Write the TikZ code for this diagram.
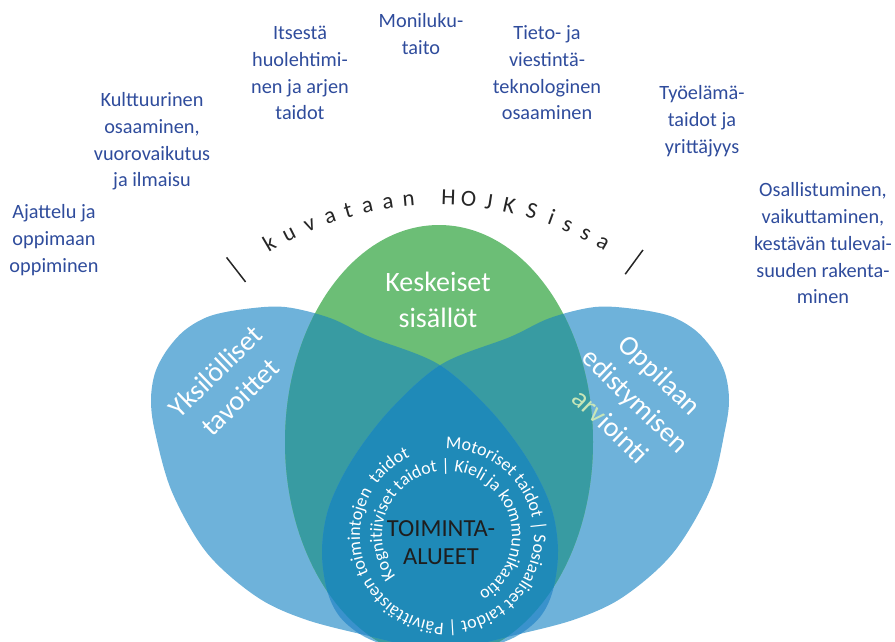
\documentclass[tikz,border=0pt]{standalone}
\usepackage{fontspec}
\setmainfont{Carlito}
\usetikzlibrary{decorations.text}
\definecolor{lblue}{HTML}{6EB2DA}
\definecolor{lgreen}{HTML}{6CBE76}
\definecolor{tealc}{HTML}{389BA2}
\definecolor{dblue}{HTML}{1F8AB8}
\definecolor{sblue}{HTML}{3A92CC}
\definecolor{labelblue}{HTML}{2F4C9C}
\definecolor{palegreen}{HTML}{C8E6B8}
\definecolor{darktext}{HTML}{1E1E1E}
\definecolor{arctext}{HTML}{262626}
\begin{document}
\begin{tikzpicture}[x=1pt,y=1pt,
  lbl/.style={text=labelblue, align=center, font=\fontsize{20.3}{26.7}\selectfont, inner sep=0pt},
  big/.style={text=white, align=center, font=\fontsize{28}{35.5}\selectfont, inner sep=0pt},
  arcl/.style={text=arctext, font=\fontsize{23}{27}\selectfont, inner sep=0pt},
  slashline/.style={draw=arctext, line width=1.5pt},
  ringtext/.style={decorate, decoration={text along path, text format delimiters={[}{]}, text align=left, text={#1}}}]
\useasboundingbox (0,0) rectangle (895,-641);
\def\LS{plot[smooth cycle, tension=0.55] coordinates {(285,-307) (330,-318) (370,-337) (438,-364) (490,-410) (528,-460) (551,-507) (558,-550) (553,-590) (540,-617) (515,-637) (480,-649) (445,-652) (410,-646) (373,-637) (307,-620) (257,-597) (207,-553) (172,-492) (155,-432) (151,-400) (155,-373) (167,-350) (185,-330) (210,-316) (245,-309)}}
\def\RS{plot[smooth cycle, tension=0.55] coordinates {(595,-307) (550,-318) (510,-337) (442,-364) (390,-410) (352,-460) (329,-507) (322,-550) (327,-590) (340,-617) (365,-637) (400,-649) (435,-652) (470,-646) (507,-637) (573,-620) (623,-597) (673,-553) (710,-490) (725,-430) (729,-400) (725,-373) (713,-350) (695,-330) (670,-316) (635,-309)}}
\def\GS{(439,-442) ellipse [x radius=154, y radius=217]}
% base shapes
\fill[lblue] \LS;
\fill[lblue] \RS;
\fill[lgreen] \GS;
\begin{scope}
  \clip \GS;
  \fill[tealc] \LS;
  \fill[tealc] \RS;
\end{scope}
\begin{scope}
  \clip \LS;
  \fill[sblue] \RS;
\end{scope}
\begin{scope}
  \clip \LS;
  \clip \RS;
  \fill[dblue] \GS;
\end{scope}
% outer labels
\node[lbl] (ajattelu) at (54,-240) {\strut Ajattelu ja\\\strut oppimaan\\\strut oppiminen};
\node[lbl] (kulttuuri) at (152,-141.5) {\strut Kulttuurinen\\\strut osaaminen,\\\strut vuorovaikutus\\\strut ja ilmaisu};
\node[lbl] (itsesta) at (300,-74.5) {\strut Itsestä\\\strut huolehtimi-\\\strut nen ja arjen\\\strut taidot};
\node[lbl] (moni) at (421,-35.5) {\strut Moniluku-\\\strut taito};
\node[lbl] (tieto) at (547,-74.5) {\strut Tieto- ja\\\strut viestintä-\\\strut teknologinen\\\strut osaaminen};
\node[lbl] (tyoelama) at (702,-121) {\strut Työelämä-\\\strut taidot ja\\\strut yrittäjyys};
\node[lbl] (osallistuminen) at (823,-245) {\strut Osallistuminen,\\\strut vaikuttaminen,\\\strut kestävän tulevai-\\\strut suuden rakenta-\\\strut minen};
% arc text
\foreach \a/\c [count=\i] in {-30.5/k,-26.7/u,-22.8/v,-19.0/a,-15.7/t,-12.3/a,-8.7/a,-5.1/n,1.8/H,5.3/O,8.8/J,12.4/K,16.4/S,20.0/i,23.0/s,26.5/s,29.9/a}
  \path (438,-530) ++(90-\a:325) node[arcl, rotate=-\a, anchor=base] (hj\i) {\c};
\draw[slashline] (438,-530) ++(127.8:314) -- ++(127.8:31);
\draw[slashline] (438,-530) ++(53.8:317) -- ++(53.8:30);
% inner labels
\node[big] (keskeiset) at (438,-302.5) {\strut Keskeiset\\\strut sisällöt};
\node[big, rotate=44] (yksilolliset) at (229.5,-386) {\strut Yksilölliset\\\strut tavoittet};
\node[big, rotate=-44] (oppilaan) at (634,-402) {\strut Oppilaan\\\strut edistymisen\\\strut {\color{palegreen}arv}iointi};
\node[font=\fontsize{24.5}{28}\selectfont, text=darktext, align=center, inner sep=0pt] (toiminta) at (441,-544.4) {\strut TOIMINTA-\\\strut ALUEET};
% ring texts
\path[ringtext={[\fontsize{18}{20}\selectfont\color{white}]Motoriset taidot | Sosiaaliset taidot | Päivittäisten toimintojen{\ } taidot}] (447,-536) ++(91:87) arc[start angle=91, end angle=-269, radius=87];
\path[ringtext={[\fontsize{17.8}{20}\selectfont\color{white}]Kognitiiviset taidot | Kieli ja kommunikaatio}] (447,-536) ++(218:65) arc[start angle=218, end angle=-142, radius=65];
\end{tikzpicture}
\end{document}
